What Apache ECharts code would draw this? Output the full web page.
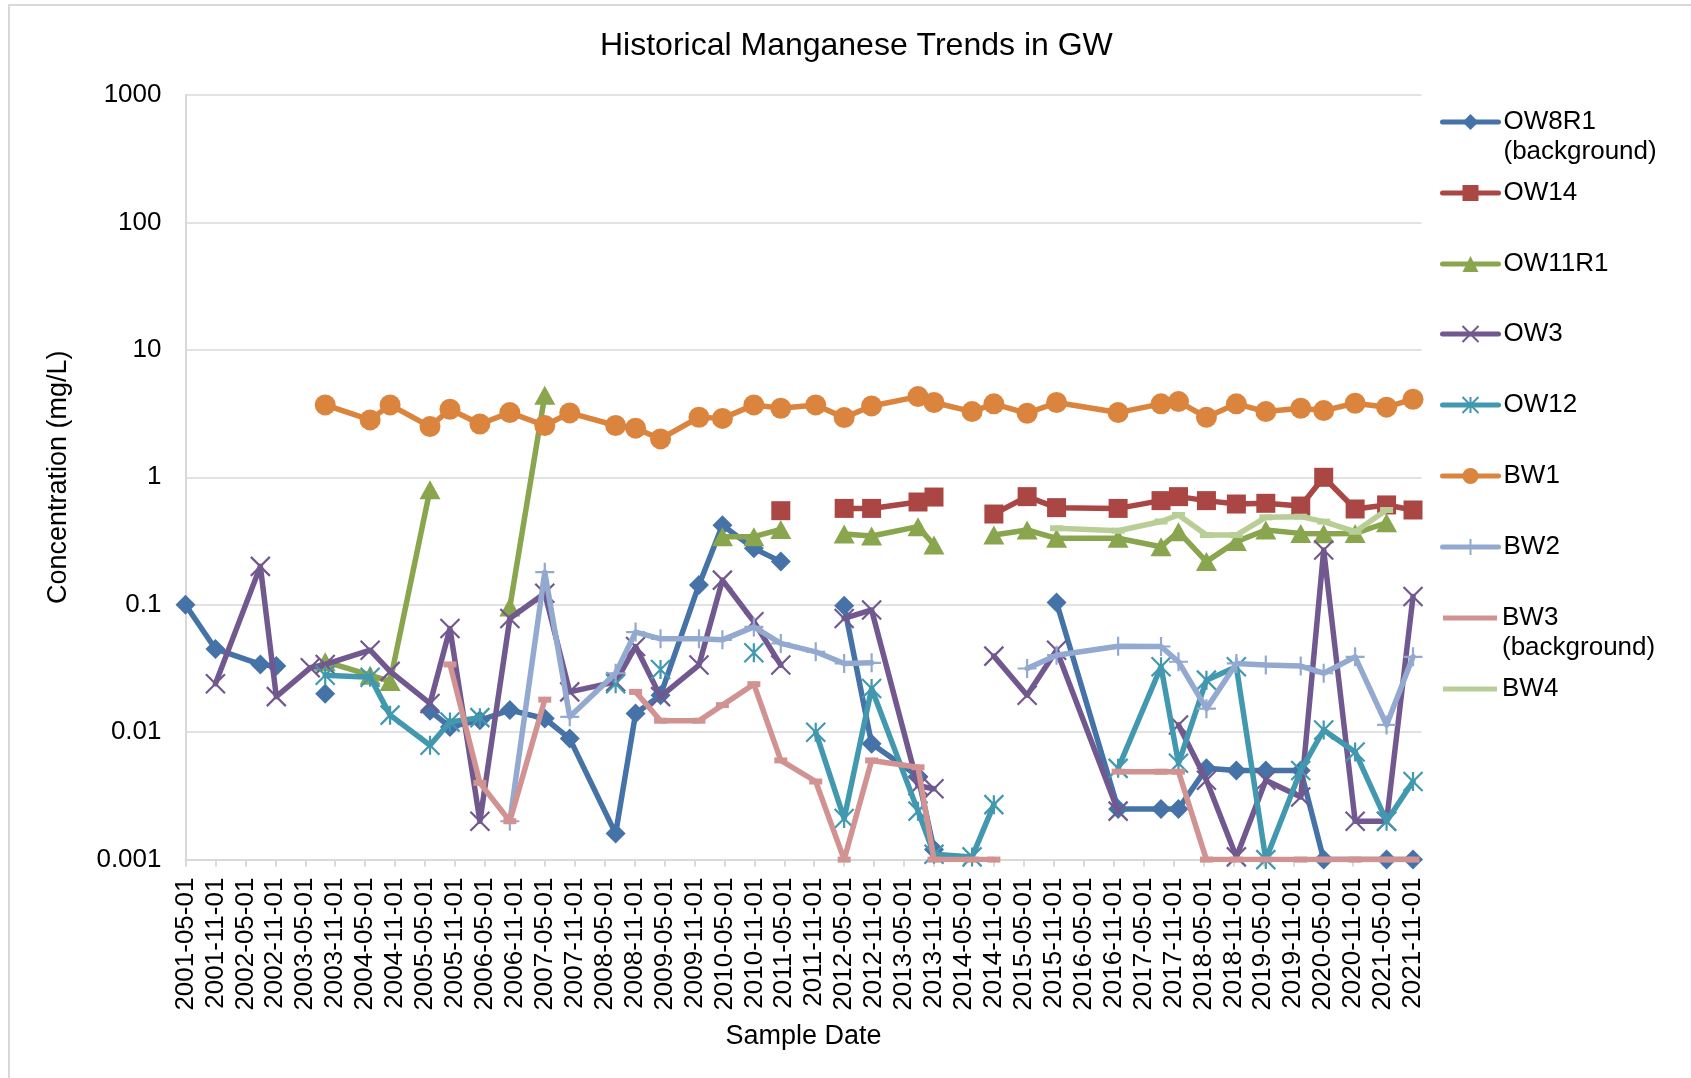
<!DOCTYPE html>
<html>
<head>
<meta charset="utf-8">
<title>Historical Manganese Trends in GW</title>
<script src="https://cdn.jsdelivr.net/npm/echarts@6/dist/echarts.min.js"></script>
<style>
  html, body { margin: 0; padding: 0; background: #fff; }
  #chart { width: 1691px; height: 1078px; }
</style>
</head>
<body>
<div id="chart"></div>
<script>
// x tick labels, one every 6 months from 2001-05-01
const dateTicks = [
  '2001-05-01', '2001-11-01', '2002-05-01', '2002-11-01', '2003-05-01', '2003-11-01',
  '2004-05-01', '2004-11-01', '2005-05-01', '2005-11-01', '2006-05-01', '2006-11-01',
  '2007-05-01', '2007-11-01', '2008-05-01', '2008-11-01', '2009-05-01', '2009-11-01',
  '2010-05-01', '2010-11-01', '2011-05-01', '2011-11-01', '2012-05-01', '2012-11-01',
  '2013-05-01', '2013-11-01', '2014-05-01', '2014-11-01', '2015-05-01', '2015-11-01',
  '2016-05-01', '2016-11-01', '2017-05-01', '2017-11-01', '2018-05-01', '2018-11-01',
  '2019-05-01', '2019-11-01', '2020-05-01', '2020-11-01', '2021-05-01', '2021-11-01'
];
const concTicks = ['0.001', '0.01', '0.1', '1', '10', '100', '1000'];

// [sample date, mg/L]; null = gap in the line
const ow8r1 = [
  ['2001-05-01', 0.1], ['2001-11-01', 0.045], ['2002-08-01', 0.034], ['2002-11-07', 0.033], ['2003-03-01', null],
  ['2003-09-01', 0.02], ['2004-06-01', null],
  ['2005-06-01', 0.0147], ['2005-10-01', 0.011], ['2006-04-01', 0.0124], ['2006-10-01', 0.0149],
  ['2007-05-01', 0.0128], ['2007-10-01', 0.0089], ['2008-07-07', 0.0016], ['2008-11-07', 0.014],
  ['2009-04-07', 0.0195], ['2009-11-28', 0.143], ['2010-04-19', 0.42], ['2010-10-28', 0.277],
  ['2011-04-10', 0.218], ['2011-11-10', null],
  ['2012-05-01', 0.098], ['2012-10-16', 0.0081], ['2013-07-25', 0.0045], ['2013-11-01', 0.0012], ['2014-11-01', null],
  ['2015-11-18', 0.104], ['2016-11-28', 0.0025], ['2017-08-16', 0.0025], ['2017-12-01', 0.0025],
  ['2018-05-19', 0.0052], ['2018-11-19', 0.005], ['2019-05-16', 0.005], ['2019-12-16', 0.005],
  ['2020-05-04', 0.001], ['2021-05-22', 0.001], ['2021-11-01', 0.001]
];

const ow14 = [
  ['2011-04-10', 0.547], ['2011-11-10', null],
  ['2012-05-01', 0.57], ['2012-10-16', 0.57], ['2013-07-25', 0.64], ['2013-11-01', 0.70], ['2014-06-20', null],
  ['2014-11-01', 0.515], ['2015-05-21', 0.705], ['2015-11-18', 0.578], ['2016-11-28', 0.57],
  ['2017-08-16', 0.656], ['2017-12-01', 0.705], ['2018-05-19', 0.656], ['2018-11-19', 0.617],
  ['2019-05-16', 0.625], ['2019-12-16', 0.595], ['2020-05-04', 1.0], ['2020-11-13', 0.564],
  ['2021-05-22', 0.607], ['2021-11-01', 0.554]
];

const ow11r1 = [
  ['2003-09-01', 0.0357], ['2004-06-01', 0.028], ['2004-10-01', 0.025], ['2005-06-01', 0.8], ['2005-10-01', null],
  ['2006-10-01', 0.096], ['2007-05-01', 4.4], ['2007-10-01', null],
  ['2010-04-19', 0.342], ['2010-10-28', 0.342], ['2011-04-10', 0.39], ['2011-11-10', null],
  ['2012-05-01', 0.359], ['2012-10-16', 0.346], ['2013-07-25', 0.41], ['2013-11-01', 0.294], ['2014-06-20', null],
  ['2014-11-01', 0.352], ['2015-05-21', 0.386], ['2015-11-18', 0.332], ['2016-11-28', 0.332],
  ['2017-08-16', 0.285], ['2017-12-01', 0.374], ['2018-05-19', 0.218], ['2018-11-19', 0.313],
  ['2019-05-16', 0.386], ['2019-12-16', 0.363], ['2020-05-04', 0.36], ['2020-11-13', 0.363],
  ['2021-05-22', 0.44]
];

const ow3 = [
  ['2001-11-01', 0.024], ['2002-08-01', 0.2], ['2002-11-07', 0.019], ['2003-06-01', 0.032],
  ['2003-09-01', 0.034], ['2004-06-01', 0.044], ['2004-10-01', 0.03], ['2005-06-01', 0.0168],
  ['2005-10-01', 0.065], ['2006-04-01', 0.002], ['2006-10-01', 0.078], ['2007-05-01', 0.123],
  ['2007-10-01', 0.0207], ['2008-07-07', 0.0248], ['2008-11-07', 0.047], ['2009-04-07', 0.019],
  ['2009-11-28', 0.0336], ['2010-04-19', 0.156], ['2010-10-28', 0.0736], ['2011-04-10', 0.0336], ['2011-11-10', null],
  ['2012-05-01', 0.078], ['2012-10-16', 0.091], ['2013-07-25', 0.0038], ['2013-11-01', 0.0036], ['2014-06-20', null],
  ['2014-11-01', 0.0395], ['2015-05-21', 0.0195], ['2015-11-18', 0.044], ['2016-11-28', 0.0024], ['2017-08-16', null],
  ['2017-12-01', 0.0114], ['2018-05-19', 0.0042], ['2018-11-19', 0.00105], ['2019-05-16', 0.0042],
  ['2019-12-16', 0.0031], ['2020-05-04', 0.269], ['2020-11-13', 0.002], ['2021-05-22', 0.002],
  ['2021-11-01', 0.116]
];

const ow12 = [
  ['2003-09-01', 0.028], ['2004-06-01', 0.027], ['2004-10-01', 0.0136], ['2005-06-01', 0.0079],
  ['2005-10-01', 0.012], ['2006-04-01', 0.013], ['2006-10-01', null],
  ['2008-07-07', 0.024], ['2008-11-07', null],
  ['2009-04-07', 0.031], ['2009-11-28', null],
  ['2010-10-28', 0.042], ['2011-04-10', null],
  ['2011-11-10', 0.01], ['2012-05-01', 0.0021], ['2012-10-16', 0.022], ['2013-07-25', 0.0024],
  ['2013-11-01', 0.0011], ['2014-06-20', 0.00105], ['2014-11-01', 0.0027], ['2015-05-21', null],
  ['2016-11-28', 0.0052], ['2017-08-16', 0.0326], ['2017-12-01', 0.0057], ['2018-05-19', 0.0256],
  ['2018-11-19', 0.0326], ['2019-05-16', 0.001], ['2019-12-16', 0.005], ['2020-05-04', 0.0104],
  ['2020-11-13', 0.007], ['2021-05-22', 0.002], ['2021-11-01', 0.0041]
];

const bw1 = [
  ['2003-09-01', 3.7], ['2004-06-01', 2.82], ['2004-10-01', 3.7], ['2005-06-01', 2.5], ['2005-10-01', 3.42],
  ['2006-04-01', 2.62], ['2006-10-01', 3.22], ['2007-05-01', 2.55], ['2007-10-01', 3.2], ['2008-07-07', 2.55],
  ['2008-11-07', 2.43], ['2009-04-07', 2.0], ['2009-11-28', 2.96], ['2010-04-19', 2.9], ['2010-10-28', 3.7],
  ['2011-04-10', 3.48], ['2011-11-10', 3.7], ['2012-05-01', 2.94], ['2012-10-16', 3.63], ['2013-07-25', 4.3],
  ['2013-11-01', 3.86], ['2014-06-20', 3.28], ['2014-11-01', 3.77], ['2015-05-21', 3.18], ['2015-11-18', 3.86],
  ['2016-11-28', 3.22], ['2017-08-16', 3.77], ['2017-12-01', 3.93], ['2018-05-19', 2.96], ['2018-11-19', 3.77],
  ['2019-05-16', 3.28], ['2019-12-16', 3.48], ['2020-05-04', 3.34], ['2020-11-13', 3.81], ['2021-05-22', 3.55],
  ['2021-11-01', 4.1]
];

const bw2 = [
  ['2006-10-01', 0.002], ['2007-05-01', 0.18], ['2007-10-01', 0.0132], ['2008-07-07', 0.029],
  ['2008-11-07', 0.061], ['2009-04-07', 0.054], ['2009-11-28', 0.054], ['2010-04-19', 0.053],
  ['2010-10-28', 0.067], ['2011-04-10', 0.0497], ['2011-11-10', 0.0427], ['2012-05-01', 0.0346],
  ['2012-10-16', 0.035], ['2013-07-25', null],
  ['2015-05-21', 0.0316], ['2015-11-18', 0.0402], ['2016-11-28', 0.0473], ['2017-08-16', 0.047],
  ['2017-12-01', 0.0357], ['2018-05-19', 0.0153], ['2018-11-19', 0.0346], ['2019-05-16', 0.0336],
  ['2019-12-16', 0.033], ['2020-05-04', 0.029], ['2020-11-13', 0.039], ['2021-05-22', 0.0114],
  ['2021-11-01', 0.039]
];

const bw3 = [
  ['2005-10-01', 0.034], ['2006-04-01', 0.004], ['2006-10-01', 0.002], ['2007-05-01', 0.018], ['2007-10-01', null],
  ['2008-11-07', 0.0207], ['2009-04-07', 0.0123], ['2009-11-28', 0.0123], ['2010-04-19', 0.0163],
  ['2010-10-28', 0.0238], ['2011-04-10', 0.006], ['2011-11-10', 0.0041], ['2012-05-01', 0.001],
  ['2012-10-16', 0.006], ['2013-07-25', 0.0053], ['2013-11-01', 0.001], ['2014-06-20', 0.001],
  ['2014-11-01', 0.001], ['2015-05-21', null],
  ['2016-11-28', 0.0049], ['2017-08-16', 0.0049], ['2017-12-01', 0.0049], ['2018-05-19', 0.001],
  ['2018-11-19', 0.001], ['2019-05-16', 0.001], ['2019-12-16', 0.001], ['2020-05-04', 0.001],
  ['2020-11-13', 0.001], ['2021-05-22', 0.001], ['2021-11-01', 0.001]
];

const bw4 = [
  ['2015-11-18', 0.398], ['2016-11-28', 0.381], ['2017-08-16', 0.45], ['2017-12-01', 0.506],
  ['2018-05-19', 0.352], ['2018-11-19', 0.352], ['2019-05-16', 0.485], ['2019-12-16', 0.491],
  ['2020-05-04', 0.449], ['2020-11-13', 0.374], ['2021-05-22', 0.554]
];

const FONT = '"Liberation Sans", Arial, sans-serif';
const xMark = 'path://M0,0L20,20M20,0L0,20';
const starMark = 'path://M0,0L20,20M20,0L0,20M10,0L10,20';
const plusMark = 'path://M10,0L10,20M0,10L20,10';

const wells = [
  { name: 'OW8R1\n(background)', data: ow8r1, color: '#4572A7', symbol: 'diamond', size: 20 },
  { name: 'OW14', data: ow14, color: '#AA4643', symbol: 'rect', size: 19 },
  { name: 'OW11R1', data: ow11r1, color: '#89A54E', symbol: 'triangle', size: [21, 19] },
  { name: 'OW3', data: ow3, color: '#71588F', symbol: xMark, size: 19, stroke: true },
  { name: 'OW12', data: ow12, color: '#4198AF', symbol: starMark, size: 19, stroke: true },
  { name: 'BW1', data: bw1, color: '#DB843D', symbol: 'circle', size: 21 },
  { name: 'BW2', data: bw2, color: '#93A9CF', symbol: plusMark, size: 19, stroke: true },
  { name: 'BW3\n(background)', data: bw3, color: '#D19392', symbol: 'rect', size: [13, 6], dash: true },
  { name: 'BW4', data: bw4, color: '#B9CD96', symbol: 'rect', size: [13, 6], dash: true }
];

// legend icon centres (px), one row per well
const legendRows = [122, 193, 264, 334, 405, 476, 547, 618, 689];

function toMonths(d) {
  const [y, m, dd] = d.split('-').map(Number);
  return (y - 2001) * 12 + (m - 5) + (dd - 1) / 30;
}

const chart = echarts.init(document.getElementById('chart'));

const series = wells.map((w, i) => ({
  name: w.name,
  type: 'line',
  z: 2 + i,
  data: w.data.map(([d, v]) => [toMonths(d), v == null ? '-' : v]),
  connectNulls: false,
  showSymbol: true,
  symbol: w.symbol,
  symbolSize: w.size,
  lineStyle: { color: w.color, width: 5.5, cap: 'round', join: 'round' },
  itemStyle: w.stroke
    ? { color: w.color, borderColor: w.color, borderWidth: 2.2 }
    : { color: w.color, borderWidth: 0 },
  emphasis: { disabled: true }
}));

// one legend per row so the spacing matches; two-line names get a
// leading blank line so the first line sits level with the icon
const legends = wells.map((w, i) => {
  const twoLine = w.name.indexOf('\n') >= 0;
  const item = { name: w.name };
  if (w.dash) item.icon = 'rect';
  return {
    show: true,
    orient: 'vertical',
    left: w.dash ? 1443 : 1440,
    top: legendRows[i] - (twoLine ? 45 : 15),
    padding: 0,
    itemWidth: w.dash ? 54 : 56,
    itemHeight: w.dash ? 5 : 20,
    selectedMode: false,
    lineStyle: { width: 5 },
    formatter: name => (twoLine ? '\n' + name : name),
    textStyle: { fontSize: 26, lineHeight: 30, color: '#000', fontFamily: FONT },
    data: [item]
  };
});

chart.setOption({
  animation: false,
  backgroundColor: '#fff',
  textStyle: { fontFamily: FONT },
  title: {
    text: 'Historical Manganese Trends in GW',
    left: 600,
    top: 30,
    padding: 0,
    textStyle: { fontSize: 32, fontWeight: 'normal', color: '#000', fontFamily: FONT }
  },
  graphic: [{
    type: 'rect',
    silent: true,
    z: -10,
    shape: { x: 9, y: 5, width: 1720, height: 1100 },
    style: { fill: 'none', stroke: '#D9D9D9', lineWidth: 2 }
  }],
  legend: legends,
  grid: { left: 185.5, top: 95, width: 1236, height: 764.6, containLabel: false },
  xAxis: {
    type: 'value',
    min: 0,
    max: 247.7,
    interval: 6,
    name: 'Sample Date',
    nameLocation: 'middle',
    nameGap: 163,
    nameTextStyle: { fontSize: 27, color: '#000', fontFamily: FONT },
    axisLine: { show: true, lineStyle: { color: '#D9D9D9', width: 2 } },
    axisTick: { show: true, length: 7, lineStyle: { color: '#D9D9D9', width: 2 } },
    splitLine: { show: false },
    axisLabel: {
      rotate: 90,
      margin: 18,
      fontSize: 26,
      color: '#000',
      fontFamily: FONT,
      showMaxLabel: false,
      formatter: v => (v % 6 === 0 && dateTicks[v / 6]) ? dateTicks[v / 6] : ''
    }
  },
  yAxis: {
    type: 'log',
    logBase: 10,
    min: 0.001,
    max: 1000,
    name: 'Concentration (mg/L)',
    nameLocation: 'middle',
    nameRotate: 90,
    nameGap: 113,
    nameTextStyle: { fontSize: 27, color: '#000', fontFamily: FONT },
    axisLine: { show: true, lineStyle: { color: '#D9D9D9', width: 2 } },
    axisTick: { show: false },
    minorTick: { show: false },
    splitLine: { show: true, lineStyle: { color: '#D9D9D9', width: 1.5 } },
    axisLabel: {
      margin: 24,
      fontSize: 26,
      color: '#000',
      fontFamily: FONT,
      formatter: v => concTicks[Math.round(Math.log10(v)) + 3] || ''
    }
  },
  series: series
});
</script>
</body>
</html>
